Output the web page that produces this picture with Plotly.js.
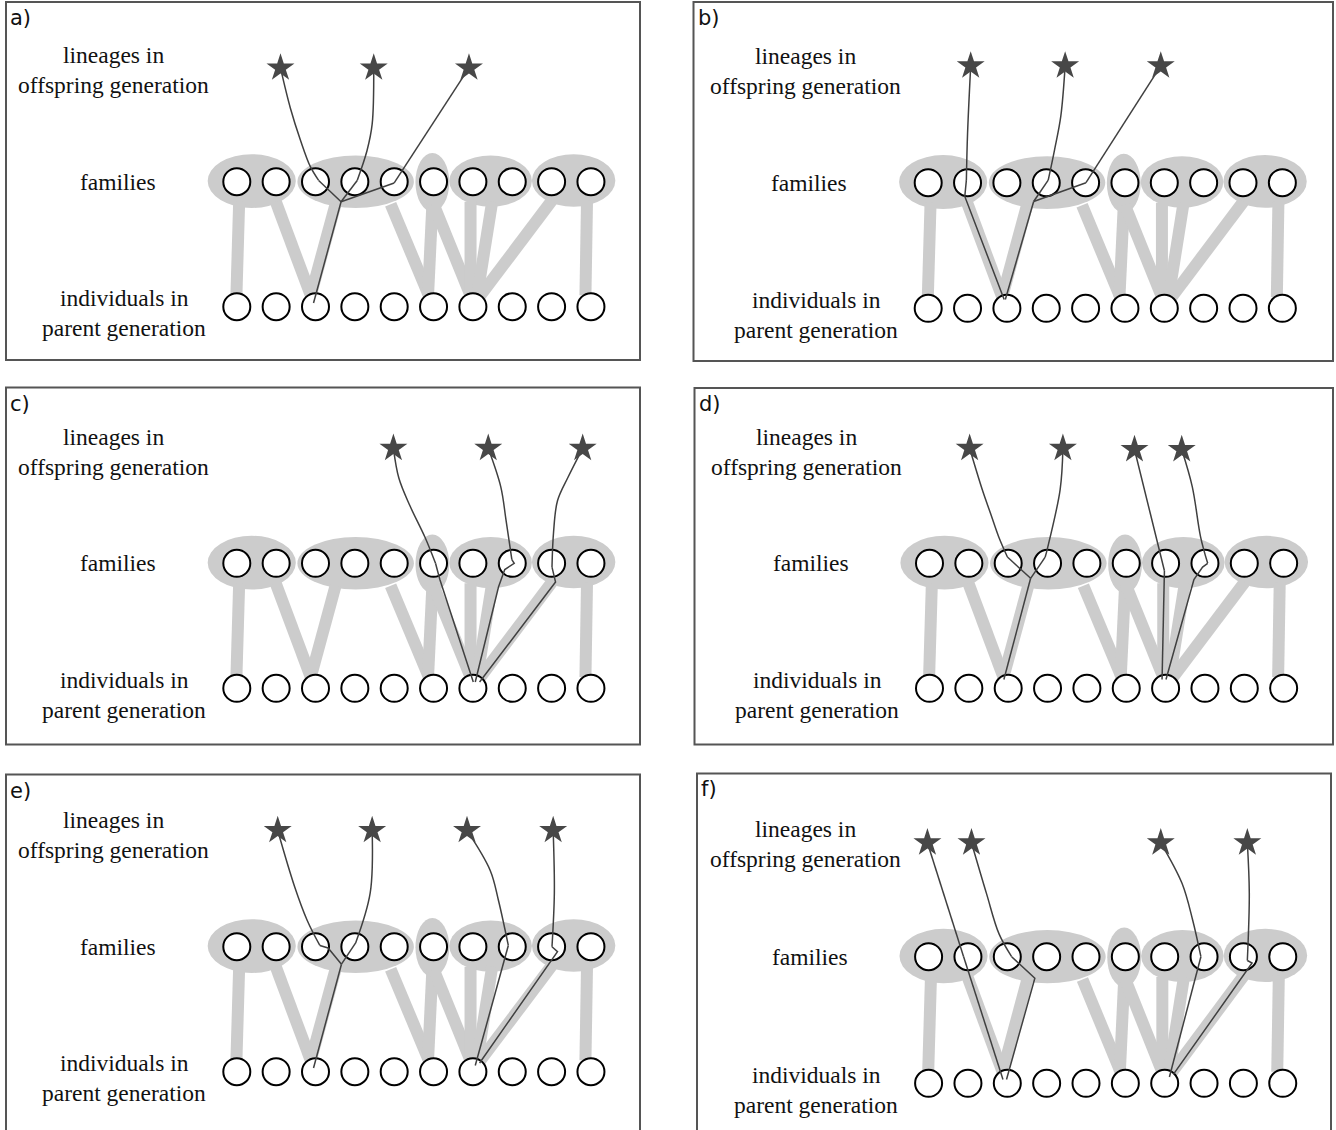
<!DOCTYPE html>
<html>
<head>
<meta charset="utf-8">
<script src="https://cdn.plot.ly/plotly-3.0.1.min.js"></script>
<style>html,body{margin:0;padding:0;background:#fff;}</style>
</head>
<body>
<div id="chart" style="width:1336px;height:1130px;"></div>
<script>
// Pedigree sketch: ten individuals in the parent generation (row 0), grouped
// into five families in the next generation (row 1); sampled lineages (stars)
// are traced back through their families to their parents.
const W = 1336, H = 1130;

// ---- shared pedigree (x in individual units, y in generation rows) ----
const individuals = [0, 1, 2, 3, 4, 5, 6, 7, 8, 9];
const parentRow = 0;
const familyRow = 1;

// family ellipses
const familyLeft   = [-0.74, 1.54, 4.54, 5.40, 7.50];
const familyRight  = [ 1.50, 4.50, 5.40, 7.50, 9.62];
const familyBottom = [ 0.79, 0.79, 0.76, 0.80, 0.80];
const familyTop    = [ 1.22, 1.21, 1.23, 1.21, 1.22];

// parent -> family links (two parents per family; family 4 is selfed)
const linkFamily  = [0, 0, 1, 1, 2, 2, 3, 3, 4, 4];
const linkParent  = [0, 2, 2, 5, 5, 6, 6, 6, 6, 9];
const linkTopX    = [0.06, 0.99, 2.51, 3.91, 4.97, 5.00, 5.94, 6.49, 8.01, 8.90];
const linkTopY    = [0.84, 0.84, 0.82, 0.82, 0.82, 0.82, 0.84, 0.84, 0.85, 0.85];
const linkBottomX = [-0.01, 1.88, 1.88, 4.88, 4.86, 5.94, 5.94, 6.11, 6.19, 8.86];
const linkBottomY = [0.09, 0.09, 0.09, 0.09, 0.09, 0.09, 0.09, 0.09, 0.09, 0.09];

// ---- sampled lineages per panel ----
// stars: offspring lineages; curves: star -> sampled individual (smoothed);
// paths: individual -> family -> parent (straight pieces)
const starsA = [[1.11, 1.91], [3.48, 1.91], [5.90, 1.91]];
const curvesA = [
  [[1.11, 1.91], [1.36, 1.59], [1.62, 1.33], [1.87, 1.12], [2.08, 1.01]],
  [[3.48, 1.91], [3.44, 1.46], [3.31, 1.25], [3.06, 1.01]],
  [[5.90, 1.91], [4.00, 0.99]]
];
const pathsA = [
  [[2.08, 1.01], [2.65, 0.84]],
  [[3.06, 1.01], [2.65, 0.84]],
  [[4.00, 0.99], [2.65, 0.84]],
  [[2.65, 0.84], [1.95, 0.03]]
];

const starsB = [[1.08, 1.93], [3.48, 1.93], [5.91, 1.93]];
const curvesB = [
  [[1.08, 1.93], [1.00, 1.39], [0.97, 1.02]],
  [[3.48, 1.93], [3.37, 1.53], [3.21, 1.26], [3.05, 1.02]],
  [[5.91, 1.93], [4.01, 1.00]]
];
const pathsB = [
  [[0.97, 1.02], [0.93, 0.89], [1.93, 0.07]],
  [[3.05, 1.02], [2.68, 0.85]],
  [[4.01, 1.00], [2.68, 0.85]],
  [[2.68, 0.85], [1.96, 0.07]]
];

const starsC = [[3.98, 1.92], [6.39, 1.92], [8.79, 1.92]];
const curvesC = [
  [[3.98, 1.92], [4.12, 1.68], [4.40, 1.46], [4.78, 1.21], [5.05, 1.00]],
  [[6.39, 1.92], [6.71, 1.61], [6.84, 1.35], [6.99, 1.03]],
  [[8.79, 1.92], [8.42, 1.69], [8.15, 1.50], [8.05, 1.25], [8.01, 0.97]]
];
const pathsC = [
  [[5.05, 1.00], [5.16, 0.87], [6.01, 0.05]],
  [[6.99, 1.03], [7.05, 1.00], [6.81, 0.95], [6.65, 0.81], [6.06, 0.05]],
  [[8.01, 0.97], [8.10, 0.85], [6.17, 0.05]]
];

const starsD = [[1.02, 1.92], [3.39, 1.92], [5.21, 1.91], [6.41, 1.91]];
const curvesD = [
  [[1.02, 1.92], [1.34, 1.59], [1.55, 1.40], [1.76, 1.21], [1.98, 1.05]],
  [[3.39, 1.92], [3.32, 1.59], [2.99, 1.11], [2.94, 1.05]],
  [[5.21, 1.91], [5.61, 1.40], [5.97, 0.94]],
  [[6.41, 1.91], [6.68, 1.61], [6.89, 1.21], [7.07, 1.00]]
];
const pathsD = [
  [[1.98, 1.05], [2.25, 0.97], [2.57, 0.88]],
  [[2.94, 1.05], [2.57, 0.88]],
  [[2.57, 0.88], [1.89, 0.07]],
  [[5.97, 0.94], [5.91, 0.07]],
  [[7.07, 1.00], [6.94, 0.97], [6.72, 0.87], [6.01, 0.07]]
];

const starsE = [[1.04, 1.93], [3.44, 1.93], [5.85, 1.93], [8.04, 1.93]];
const curvesE = [
  [[1.04, 1.93], [1.47, 1.48], [1.79, 1.21], [2.11, 1.01]],
  [[3.44, 1.93], [3.39, 1.43], [3.02, 1.03]],
  [[5.85, 1.93], [6.44, 1.61], [6.65, 1.37], [6.90, 1.01]],
  [[8.04, 1.93], [8.07, 1.43], [8.01, 1.00]]
];
const pathsE = [
  [[2.11, 1.01], [2.32, 0.99], [2.66, 0.86]],
  [[3.02, 1.03], [2.66, 0.86]],
  [[2.66, 0.86], [1.95, 0.03]],
  [[6.90, 1.01], [6.06, 0.05]],
  [[8.01, 1.00], [8.15, 0.96], [6.17, 0.07]]
];

const starsF = [[-0.03, 1.90], [1.09, 1.90], [5.90, 1.90], [8.10, 1.90]];
const curvesF = [
  [[-0.03, 1.90], [0.89, 1.00]],
  [[1.09, 1.90], [1.47, 1.50], [1.79, 1.18], [2.11, 1.00]],
  [[5.90, 1.90], [6.44, 1.58], [6.71, 1.29], [6.92, 1.00]],
  [[8.10, 1.90], [8.15, 1.50], [8.10, 0.97]]
];
const pathsF = [
  [[0.89, 1.00], [1.89, 0.03]],
  [[2.11, 1.00], [2.70, 0.83], [1.98, 0.03]],
  [[6.92, 1.00], [6.12, 0.05]],
  [[8.10, 0.97], [8.22, 0.95], [6.22, 0.07]]
];

const panelLetters = ['a)', 'b)', 'c)', 'd)', 'e)', 'f)'];
const panelStars  = [starsA, starsB, starsC, starsD, starsE, starsF];
const panelCurves = [curvesA, curvesB, curvesC, curvesD, curvesE, curvesF];
const panelPaths  = [pathsA, pathsB, pathsC, pathsD, pathsE, pathsF];

// row captions
const rowLabels = ['lineages in', 'offspring generation', 'families', 'individuals in', 'parent generation'];
const rowLabelX = [-3.13, -3.13, -3.02, -2.85, -2.86];
const rowLabelY = [2.01, 1.77, 1.00, 0.067, -0.173];

// ---- page layout of the six panels (pixels) ----
const frameLeft   = [6, 693.5, 6, 694.5, 6, 697];
const frameTop    = [2, 2, 387.5, 388, 774.5, 773.5];
const frameRight  = [640, 1333, 640, 1333, 640, 1331];
const frameBottom = [360, 361, 744.5, 744.5, 1140, 1140];
const originX = [236.8, 928.2, 236.8, 929.5, 236.8, 928.6];   // individual 0
const parentY = [306.7, 308.3, 688.3, 688.3, 1071.7, 1083.3]; // parent row
const familyY = [181.7, 182.7, 563.3, 563.3, 946.7, 956.7];   // family row
const SPACING = 39.35;

const LINK_GREY = '#cccccc';
const LINEAGE = '#404040';
const STAR = '#474747';

const traces = [];
const shapes = [];
const annotations = [];
const layout = {
  width: W, height: H,
  margin: {l: 0, r: 0, t: 0, b: 0},
  paper_bgcolor: '#ffffff', plot_bgcolor: 'rgba(0,0,0,0)',
  showlegend: false,
  hovermode: false
};

const xs = pts => pts.map(p => p[0]);
const ys = pts => pts.map(p => p[1]);

panelLetters.forEach((letter, i) => {
  const s = i === 0 ? '' : String(i + 1);
  const xr = 'x' + s, yr = 'y' + s;
  const dy = parentY[i] - familyY[i];
  const bottom = Math.min(frameBottom[i], H);

  layout['xaxis' + s] = {
    domain: [frameLeft[i] / W, frameRight[i] / W],
    range: [(frameLeft[i] - originX[i]) / SPACING, (frameRight[i] - originX[i]) / SPACING],
    anchor: yr, visible: false, fixedrange: true
  };
  layout['yaxis' + s] = {
    domain: [1 - bottom / H, 1 - frameTop[i] / H],
    range: [(parentY[i] - bottom) / dy, (parentY[i] - frameTop[i]) / dy],
    anchor: xr, visible: false, fixedrange: true
  };

  // family ellipses
  familyLeft.forEach((l, f) => {
    shapes.push({
      type: 'circle', xref: xr, yref: yr, layer: 'below',
      x0: l, x1: familyRight[f], y0: familyBottom[f], y1: familyTop[f],
      fillcolor: LINK_GREY, line: {width: 0}
    });
  });

  // parent -> family links
  const lx = [], ly = [];
  linkParent.forEach((p, k) => {
    lx.push(linkTopX[k], linkBottomX[k], null);
    ly.push(linkTopY[k], linkBottomY[k], null);
  });
  traces.push({
    type: 'scatter', mode: 'lines', xaxis: xr, yaxis: yr,
    x: lx, y: ly, line: {color: LINK_GREY, width: 12}, hoverinfo: 'skip'
  });

  // individuals in both rows
  traces.push({
    type: 'scatter', mode: 'markers', xaxis: xr, yaxis: yr,
    x: individuals.concat(individuals),
    y: individuals.map(() => familyRow).concat(individuals.map(() => parentRow)),
    marker: {symbol: 'circle', size: 27, color: '#ffffff', line: {color: '#000000', width: 2}},
    hoverinfo: 'skip'
  });

  // lineages
  panelCurves[i].forEach(c => {
    traces.push({
      type: 'scatter', mode: 'lines', xaxis: xr, yaxis: yr,
      x: xs(c), y: ys(c),
      line: {color: LINEAGE, width: 1.5, shape: c.length > 2 ? 'spline' : 'linear', smoothing: 1},
      hoverinfo: 'skip'
    });
  });
  const px = [], py = [];
  panelPaths[i].forEach(p => { px.push(...xs(p), null); py.push(...ys(p), null); });
  traces.push({
    type: 'scatter', mode: 'lines', xaxis: xr, yaxis: yr,
    x: px, y: py, line: {color: LINEAGE, width: 1.5}, hoverinfo: 'skip'
  });

  // sampled offspring
  traces.push({
    type: 'scatter', mode: 'markers', xaxis: xr, yaxis: yr,
    x: xs(panelStars[i]), y: ys(panelStars[i]),
    marker: {symbol: 'star', size: 21, color: STAR, line: {width: 0}},
    hoverinfo: 'skip'
  });

  // captions
  rowLabels.forEach((t, k) => {
    annotations.push({
      xref: xr, yref: yr, x: rowLabelX[k], y: rowLabelY[k],
      text: t, showarrow: false, xanchor: 'center', yanchor: 'middle',
      font: {family: 'Liberation Serif, Times New Roman, serif', size: 23.5, color: '#111111'}
    });
  });

  // panel frame and letter
  shapes.push({
    type: 'rect', xref: 'paper', yref: 'paper', layer: 'above',
    x0: frameLeft[i] / W, x1: frameRight[i] / W,
    y0: 1 - frameBottom[i] / H, y1: 1 - frameTop[i] / H,
    line: {color: '#555555', width: 2}, fillcolor: 'rgba(0,0,0,0)'
  });
  annotations.push({
    xref: 'paper', yref: 'paper',
    x: (frameLeft[i] + 2) / W, y: 1 - (frameTop[i] + 2) / H,
    xanchor: 'left', yanchor: 'top', showarrow: false, text: letter,
    font: {family: 'DejaVu Sans, sans-serif', size: 21, color: '#111111'}
  });
});

layout.shapes = shapes;
layout.annotations = annotations;

Plotly.newPlot('chart', traces, layout, {staticPlot: true, displayModeBar: false});
</script>
</body>
</html>
